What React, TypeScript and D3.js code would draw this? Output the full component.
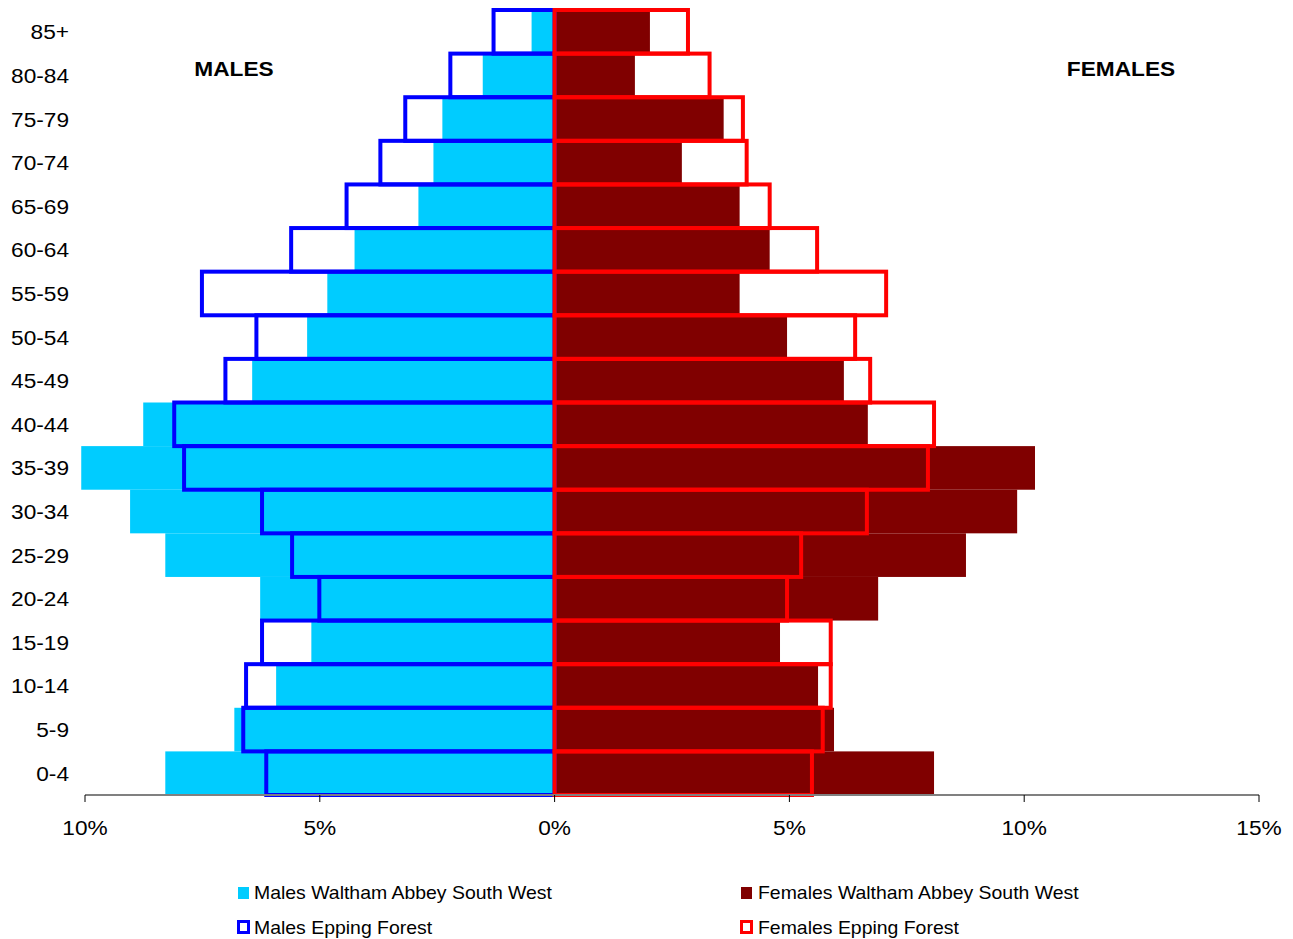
import * as d3 from "d3";

const ageGroups = ["85+", "80-84", "75-79", "70-74", "65-69", "60-64", "55-59", "50-54", "45-49", "40-44", "35-39", "30-34", "25-29", "20-24", "15-19", "10-14", "5-9", "0-4"];

// % of population
const malesWASW = [0.49, 1.53, 2.39, 2.58, 2.9, 4.26, 4.84, 5.27, 6.44, 8.76, 10.08, 9.04, 8.29, 6.27, 5.18, 5.93, 6.82, 8.29];
const malesEpping = [1.3, 2.22, 3.18, 3.71, 4.43, 5.61, 7.51, 6.35, 7.01, 8.1, 7.89, 6.23, 5.59, 5.01, 6.23, 6.57, 6.63, 6.14];
const femalesWASW = [2.03, 1.71, 3.6, 2.71, 3.94, 4.58, 3.94, 4.95, 6.16, 6.67, 10.23, 9.85, 8.76, 6.89, 4.8, 5.61, 5.95, 8.08];
const femalesEpping = [2.84, 3.3, 4.01, 4.09, 4.58, 5.59, 7.06, 6.4, 6.72, 8.08, 7.95, 6.65, 5.25, 4.95, 5.88, 5.88, 5.71, 5.48];

const xTicks = [-10, -5, 0, 5, 10, 15];

const W = 1293;
const H = 939;
const font = "'Liberation Sans', Arial, sans-serif";
const SX = 1.08; // the original text is a touch wider than Liberation Sans

function T(props: { x: number; y: number; size: number; anchor?: string; bold?: boolean; children: string }) {
  return (
    <text
      transform={`translate(${props.x},${props.y}) scale(${SX},1)`}
      textAnchor={props.anchor ?? "start"}
      fontSize={props.size}
      fontWeight={props.bold ? "bold" : "normal"}
      fill="#000"
    >
      {props.children}
    </text>
  );
}

export default function App() {
  const x = d3.scaleLinear().domain([-10, 15]).range([85, 1259]);
  const y = d3.scaleBand().domain(ageGroups).range([10, 795]).padding(0);
  const bw = y.bandwidth();
  const x0 = x(0);

  return (
    <svg width={W} height={H} style={{ position: "absolute", left: 0, top: 0, fontFamily: font }}>
      <rect width={W} height={H} fill="#fff" />

      {/* filled bars */}
      {ageGroups.map((g, i) => (
        <rect key={"mf" + g} x={x(-malesWASW[i])} y={y(g)} width={x0 - x(-malesWASW[i])} height={bw} fill="#00ccff" />
      ))}
      {ageGroups.map((g, i) => (
        <rect key={"ff" + g} x={x0} y={y(g)} width={x(femalesWASW[i]) - x0} height={bw} fill="#800000" />
      ))}

      {/* outline bars */}
      {ageGroups.map((g, i) => (
        <rect key={"mo" + g} x={x(-malesEpping[i])} y={y(g)} width={x0 - x(-malesEpping[i])} height={bw} fill="none" stroke="#0000ff" strokeWidth={4} />
      ))}
      {ageGroups.map((g, i) => (
        <rect key={"fo" + g} x={x0} y={y(g)} width={x(femalesEpping[i]) - x0} height={bw} fill="none" stroke="#ff0000" strokeWidth={4} />
      ))}

      {/* x axis */}
      <line x1={x(-10)} x2={x(15)} y1={795} y2={795} stroke="#808080" strokeWidth={2} />
      {xTicks.map((t) => (
        <g key={"t" + t}>
          <line x1={x(t)} x2={x(t)} y1={795} y2={802} stroke="#000" strokeWidth={1} />
          <T x={x(t)} y={835} size={21} anchor="middle">{Math.abs(t) + "%"}</T>
        </g>
      ))}

      {/* category labels */}
      {ageGroups.map((g) => (
        <T key={"l" + g} x={69} y={(y(g) ?? 0) + bw / 2 + 7.5} size={21} anchor="end">{g}</T>
      ))}

      <T x={234} y={76} size={21} anchor="middle" bold>MALES</T>
      <T x={1121} y={76} size={21} anchor="middle" bold>FEMALES</T>

      {/* legend */}
      <rect x={238} y={887} width={11} height={12} fill="#00ccff" />
      <T x={254} y={899} size={18}>Males Waltham Abbey South West</T>
      <rect x={238.5} y={921.5} width={10} height={11} fill="#fff" stroke="#0000ff" strokeWidth={3} />
      <T x={254} y={934} size={18}>Males Epping Forest</T>
      <rect x={741} y={887} width={11} height={12} fill="#800000" />
      <T x={758} y={899} size={18}>Females Waltham Abbey South West</T>
      <rect x={741.5} y={921.5} width={10} height={11} fill="#fff" stroke="#ff0000" strokeWidth={3} />
      <T x={758} y={934} size={18}>Females Epping Forest</T>
    </svg>
  );
}
